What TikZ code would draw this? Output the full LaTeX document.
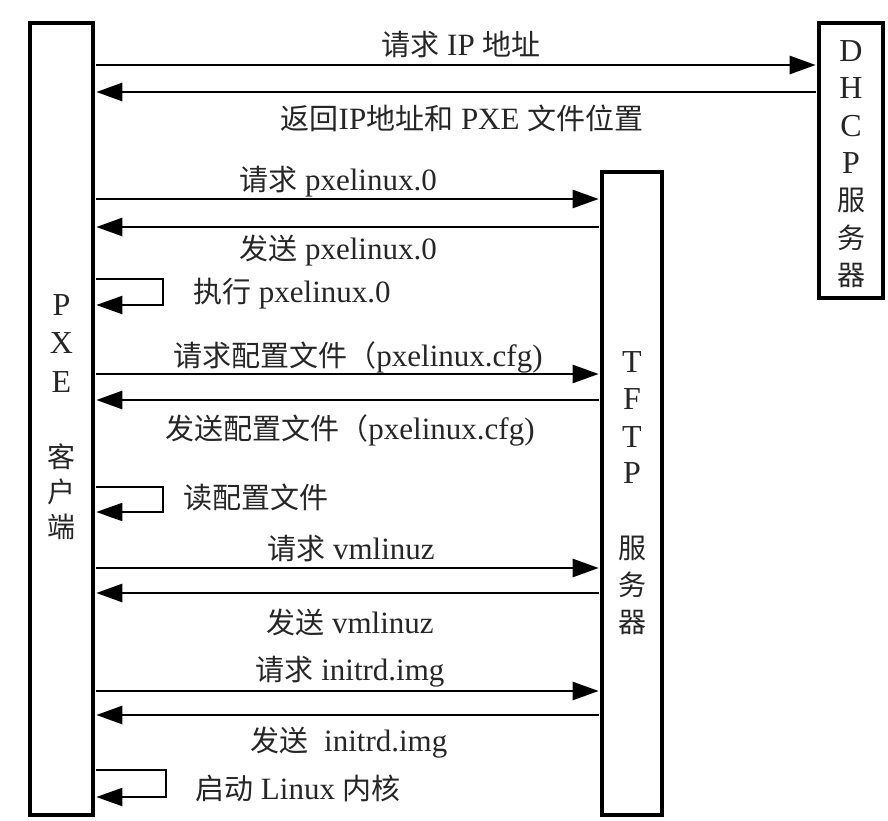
\documentclass[tikz,border=0pt]{standalone}
\usepackage{fontspec}
\setmainfont{Liberation Serif}
\newfontfamily\cjk{Noto Sans CJK SC}
\usetikzlibrary{arrows.meta}
\newcommand{\zh}[1]{{\cjk\fontsize{29}{32}\selectfont #1}}
\newcommand{\zhb}[1]{{\cjk\fontsize{28}{31}\selectfont #1}}
\tikzset{
  lifebox/.style={draw=black, line width=3.6pt, fill=white, inner sep=0pt},
  msg/.style={line width=2.6pt, -{Triangle[length=26pt,width=18pt]}, shorten >=1.5pt, shorten <=1.5pt},
  selfloop/.style={line width=2pt, -{Triangle[length=26pt,width=18pt]}, shorten >=1.5pt, shorten <=1.5pt},
  lbl/.style={inner sep=0pt, text=black!85, font=\fontsize{31}{34}\selectfont},
  boxlbl/.style={inner sep=0pt, text=black!85, font=\fontsize{32}{35}\selectfont},
}
\begin{document}
\begin{tikzpicture}[x=1pt,y=-1pt]
\useasboundingbox (0,0) rectangle (888,821);
% boxes
\node[lifebox, minimum width=63pt, minimum height=792pt] (pxe) at (61.5,419) {};
\node[lifebox, minimum width=64pt, minimum height=275pt] (dhcp) at (851,160.5) {};
\node[lifebox, minimum width=60pt, minimum height=643pt] (tftp) at (632,493.5) {};
% box labels
\node[boxlbl] (pxeP) at (pxe.center |- 0,305) {P};
\node[boxlbl] (pxeX) at (pxe.center |- 0,343) {X};
\node[boxlbl] (pxeE) at (pxe.center |- 0,382) {E};
\node[boxlbl] (pxeK) at (pxe.center |- 0,457) {\zhb{客}};
\node[boxlbl] (pxeH) at (pxe.center |- 0,492) {\zhb{户}};
\node[boxlbl] (pxeD) at (pxe.center |- 0,527) {\zhb{端}};
\node[boxlbl] (dhD) at (dhcp.center |- 0,51) {D};
\node[boxlbl] (dhH) at (dhcp.center |- 0,88) {H};
\node[boxlbl] (dhC) at (dhcp.center |- 0,126) {C};
\node[boxlbl] (dhP) at (dhcp.center |- 0,163) {P};
\node[boxlbl] (dhF) at (dhcp.center |- 0,200) {\zhb{服}};
\node[boxlbl] (dhW) at (dhcp.center |- 0,238) {\zhb{务}};
\node[boxlbl] (dhQ) at (dhcp.center |- 0,275) {\zhb{器}};
\node[boxlbl] (tfT) at (tftp.center |- 0,362) {T};
\node[boxlbl] (tfF) at (tftp.center |- 0,399) {F};
\node[boxlbl] (tfT2) at (tftp.center |- 0,437) {T};
\node[boxlbl] (tfP) at (tftp.center |- 0,473) {P};
\node[boxlbl] (tfFu) at (tftp.center |- 0,548) {\zhb{服}};
\node[boxlbl] (tfW) at (tftp.center |- 0,585) {\zhb{务}};
\node[boxlbl] (tfQ) at (tftp.center |- 0,622) {\zhb{器}};
% messages
\draw[msg] (pxe.east |- 0,65) -- (dhcp.west |- 0,65);
\node[lbl] (m1) at (461,45) {\zh{请求} IP \zh{地址}};
\draw[msg] (dhcp.west |- 0,92) -- (pxe.east |- 0,92);
\node[lbl] (m2) at (462,118) {\zh{返回}IP\zh{地址和} PXE \zh{文件位置}};
\draw[msg] (pxe.east |- 0,199) -- (tftp.west |- 0,199);
\node[lbl] (m3) at (338,182) {\zh{请求} pxelinux.0};
\draw[msg] (tftp.west |- 0,227) -- (pxe.east |- 0,227);
\node[lbl] (m4) at (338,251) {\zh{发送} pxelinux.0};
\draw[selfloop] (pxe.east |- 0,279) -- (163,279) -- (163,305) -- (pxe.east |- 0,305);
\node[lbl, anchor=west] (m5) at (193,294) {\zh{执行} pxelinux.0};
\draw[msg] (pxe.east |- 0,374) -- (tftp.west |- 0,374);
\node[lbl] (m6) at (358,357) {\zh{请求配置文件（}pxelinux.cfg)};
\draw[msg] (tftp.west |- 0,400) -- (pxe.east |- 0,400);
\node[lbl] (m7) at (350,430) {\zh{发送配置文件（}pxelinux.cfg)};
\draw[selfloop] (pxe.east |- 0,487) -- (163,487) -- (163,512) -- (pxe.east |- 0,512);
\node[lbl, anchor=west] (m8) at (183,497) {\zh{读配置文件}};
\draw[msg] (pxe.east |- 0,568) -- (tftp.west |- 0,568);
\node[lbl] (m9) at (351,549) {\zh{请求} vmlinuz};
\draw[msg] (tftp.west |- 0,593) -- (pxe.east |- 0,593);
\node[lbl] (m10) at (350,622) {\zh{发送} vmlinuz};
\draw[msg] (pxe.east |- 0,691) -- (tftp.west |- 0,691);
\node[lbl] (m11) at (350,672) {\zh{请求} initrd.img};
\draw[msg] (tftp.west |- 0,715) -- (pxe.east |- 0,715);
\node[lbl] (m12) at (349,743) {\zh{发送}\ \ initrd.img};
\draw[selfloop] (pxe.east |- 0,770) -- (166,770) -- (166,797) -- (pxe.east |- 0,797);
\node[lbl, anchor=west] (m13) at (195,788) {\zh{启动} Linux \zh{内核}};
\end{tikzpicture}
\end{document}
